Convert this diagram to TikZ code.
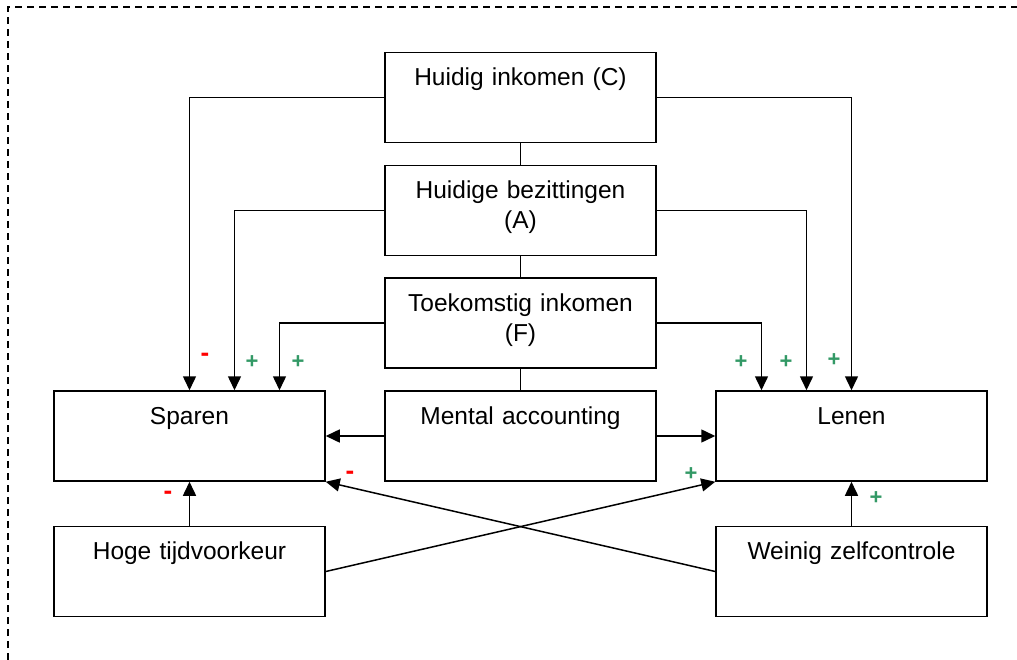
\documentclass[tikz,border=0pt]{standalone}
\usepackage{fontspec}
\setmainfont{Liberation Sans}
\usetikzlibrary{arrows.meta}
\definecolor{plusgroen}{RGB}{51,153,102}
\definecolor{minrood}{RGB}{255,0,0}
\begin{document}
\begin{tikzpicture}[x=1pt,y=-1pt,
    blok/.style={draw,line width=1.5pt,inner sep=0pt,text width=271pt,align=center,text height=33pt,text depth=57pt,font=\fontsize{24.5}{30}\selectfont},
    lijn/.style={line width=1.5pt},
    pijl/.style={lijn,-{Triangle[length=14pt,width=13pt]}},
    plusteken/.style={text=plusgroen,font=\bfseries\fontsize{22}{22}\selectfont},
    minteken/.style={text=minrood,font=\bfseries\fontsize{26}{26}\selectfont}]
    \useasboundingbox (0,0) rectangle (1017,660);
    \draw[line width=1.3pt,dash pattern=on 7pt off 5pt] (8,660) -- (8,7) -- (1017,7);
    \node[blok] (c) at (520.5,97.5) {Huidig inkomen (C)};
    \node[blok] (a) at (520.5,210.5) {Huidige bezittingen\\(A)};
    \node[blok] (f) at (520.5,323) {Toekomstig inkomen\\(F)};
    \node[blok] (m) at (520.5,436) {Mental accounting};
    \node[blok] (spaar) at (189.5,436) {Sparen};
    \node[blok] (leen) at (851.5,436) {Lenen};
    \node[blok] (hoog) at (189.5,571.5) {Hoge tijdvoorkeur};
    \node[blok] (weinig) at (851.5,571.5) {Weinig zelfcontrole};
    \draw[lijn] (c) -- (a) (a) -- (f) (f) -- (m);
    \draw[pijl] (c.west) -| (spaar.north);
    \draw[pijl] (a.west) -| ([xshift=45pt]spaar.north);
    \draw[pijl] (f.west) -| ([xshift=90pt]spaar.north);
    \draw[pijl] (c.east) -| (leen.north);
    \draw[pijl] (a.east) -| ([xshift=-45pt]leen.north);
    \draw[pijl] (f.east) -| ([xshift=-90pt]leen.north);
    \draw[pijl] (m.west) -- (spaar.east);
    \draw[pijl] (m.east) -- (leen.west);
    \draw[pijl] (hoog.north) -- (spaar.south);
    \draw[pijl] (weinig.north) -- (leen.south);
    \draw[pijl] (hoog.east) -- (leen.south west);
    \draw[pijl] (weinig.west) -- (spaar.south east);
    \node[minteken] (t1) at (205,357) {-};
    \node[plusteken] (t2) at (252,362) {+};
    \node[plusteken] (t3) at (298,362) {+};
    \node[plusteken] (t4) at (741,362) {+};
    \node[plusteken] (t5) at (786,362) {+};
    \node[plusteken] (t6) at (834,360) {+};
    \node[minteken] (t7) at (168,495) {-};
    \node[plusteken] (t8) at (876,498) {+};
    \node[minteken] (t9) at (350,475) {-};
    \node[plusteken] (t10) at (691,474) {+};
\end{tikzpicture}
\end{document}
